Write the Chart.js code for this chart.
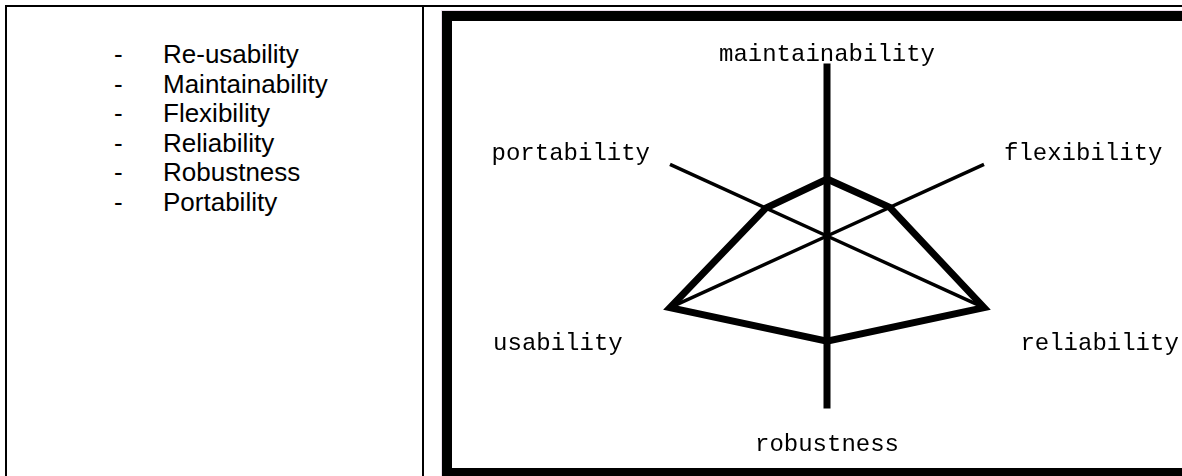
<!DOCTYPE html>
<html>
<head>
<meta charset="utf-8">
<script src="https://cdn.jsdelivr.net/npm/chart.js@4.4.0/dist/chart.umd.min.js"></script>
<style>
html,body{margin:0;padding:0;background:#fff;width:1182px;height:476px;overflow:hidden;position:relative;}
#table{position:absolute;left:5px;top:5px;width:1400px;height:700px;border-left:2px solid #000;border-top:2px solid #000;box-sizing:border-box;}
#divider{position:absolute;left:422px;top:5px;width:2px;height:700px;background:#000;}
#list{position:absolute;left:0;top:40px;margin:0;padding:0;list-style:none;font-family:"Liberation Sans",Arial,sans-serif;font-size:26px;line-height:29.6px;color:#000;}
#list li{position:relative;padding-left:163px;white-space:nowrap;}
#list li .dash{position:absolute;left:114px;}
#frame{position:absolute;left:442px;top:11px;width:800px;height:467px;border:10px solid #000;box-sizing:border-box;box-shadow:0 0 0 1px #eadcea;z-index:2;pointer-events:none;}
#chartBox{position:absolute;left:412px;top:27px;width:830px;height:446px;z-index:1;}
</style>
</head>
<body>
<div id="table"></div>
<div id="divider"></div>
<ul id="list">
  <li><span class="dash">-</span>Re-usability</li>
  <li><span class="dash">-</span>Maintainability</li>
  <li><span class="dash">-</span>Flexibility</li>
  <li><span class="dash">-</span>Reliability</li>
  <li><span class="dash">-</span>Robustness</li>
  <li><span class="dash">-</span>Portability</li>
</ul>
<div id="frame"></div>
<div id="chartBox"><canvas id="c" width="830" height="446"></canvas></div>
<script>
// ---- data ----
const categories = ['maintainability', 'flexibility', 'reliability', 'robustness', 'usability', 'portability'];
const scores = [3.3, 4.0, 10, 6.1, 10, 3.9];
const scaleMin = 0;
const scaleMax = 10;

// ---- layout: the axes of the original sit on a 22-step dial ----
const slotCount = 22;
const axisSlots = [0, 4, 7, 11, 15, 18];
const labelPad = {maintainability: -5.4, flexibility: 22, reliability: 40, robustness: 21.6, usability: 52, portability: 22};
const labelLineHeight = {maintainability: 1.2, flexibility: 0.1, reliability: 1.6, robustness: 1.2, usability: 1.2, portability: 0.1};
const thickAxes = ['maintainability', 'robustness'];

const slotLabels = Array(slotCount).fill('');
const slotValues = Array(slotCount).fill(null);
categories.forEach((c, i) => { slotLabels[axisSlots[i]] = c; slotValues[axisSlots[i]] = scores[i]; });

new Chart(document.getElementById('c'), {
  type: 'radar',
  data: {
    labels: slotLabels,
    datasets: [{
      data: slotValues,
      borderColor: '#000',
      backgroundColor: 'rgba(0,0,0,0)',
      borderWidth: 7,
      fill: false,
      spanGaps: true,
      pointRadius: 0,
      pointHoverRadius: 0,
      tension: 0,
      borderJoinStyle: 'miter'
    }]
  },
  options: {
    responsive: false,
    maintainAspectRatio: false,
    devicePixelRatio: 1,
    animation: false,
    events: [],
    layout: {padding: 0},
    plugins: {legend: {display: false}, tooltip: {enabled: false}, title: {display: false}},
    scales: {
      r: {
        min: scaleMin,
        max: scaleMax,
        ticks: {display: false},
        grid: {display: false},
        angleLines: {
          display: true,
          color: (ctx) => slotLabels[ctx.index] ? '#000' : 'rgba(0,0,0,0)',
          lineWidth: (ctx) => {
            const l = slotLabels[ctx.index];
            if (!l) return 0;
            return thickAxes.includes(l) ? 7 : 3.5;
          }
        },
        pointLabels: {
          display: true,
          color: '#000',
          padding: (ctx) => {
            const l = slotLabels[ctx.index];
            return l ? labelPad[l] : 0;
          },
          font: (ctx) => {
            const l = slotLabels[ctx.index];
            if (!l) return {size: 1, lineHeight: 1};
            return {family: '"Liberation Mono", "DejaVu Sans Mono", monospace', size: 24, weight: 'normal', lineHeight: labelLineHeight[l]};
          }
        }
      }
    }
  }
});
</script>
</body>
</html>
